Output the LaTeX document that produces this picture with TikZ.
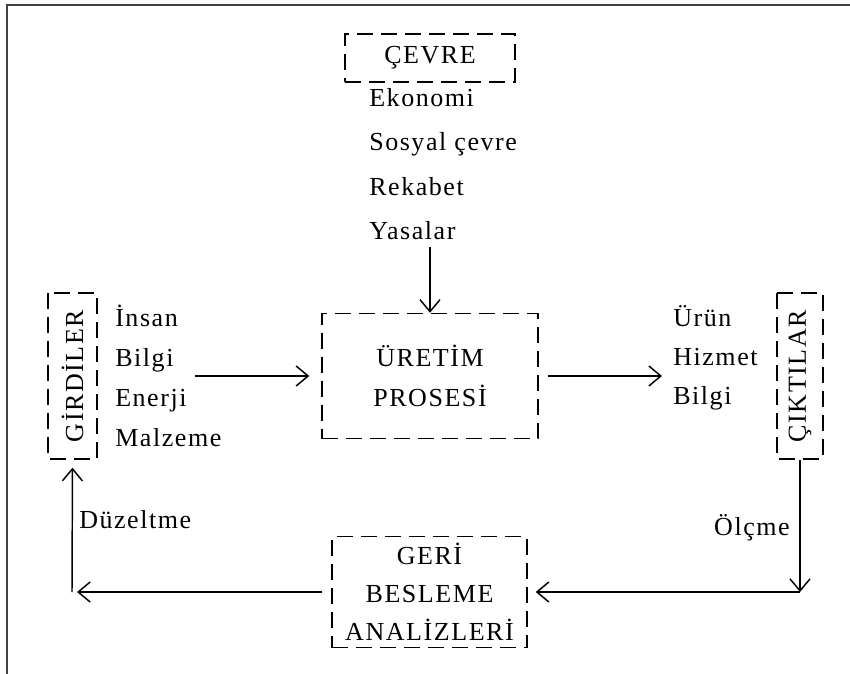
\documentclass[tikz,border=0pt]{standalone}
\usepackage{fontspec}
\setmainfont{Liberation Serif}[LetterSpace=6]
\usetikzlibrary{arrows.meta}
\begin{document}
\begin{tikzpicture}[x=0.75pt,y=-0.75pt,
  every node/.style={font=\fontsize{19.5}{28.5}\selectfont, inner sep=0pt},
  dbox/.style={draw, dash pattern=on 12pt off 6pt, line width=1.1pt},
  item/.style={anchor=base west},
  arr/.style={line width=1.1pt, -{Straight Barb[length=9pt,width=15pt,line width=1.1pt]}},
  frame/.style={line width=2pt, draw=black!75}]
\useasboundingbox (0,0) rectangle (850,674);
% page frame (top and left edges)
\draw[frame] (7,674) -- (7,5) -- (850,5);

% environment
\node[dbox, minimum width=127.5pt, minimum height=36pt] (cevre) at (430,58) {ÇEVRE};
\node[item] (eko) at (369,107) {Ekonomi};
\node[item] (sos) at (369,151) {Sosyal çevre};
\node[item] (rek) at (369,195) {Rekabet};
\node[item] (yas) at (369,239) {Yasalar};
\coordinate (envend) at (430,247);

% production process
\node[dbox, minimum width=162pt, minimum height=93.75pt, align=center,
      font=\fontsize{19.5}{30}\selectfont] (uret) at (430,376) {ÜRETİM\\PROSESİ};

% inputs
\node[dbox, rotate=90, minimum width=124.5pt, minimum height=36.75pt] (gird) at (72.5,376) {GİRDİLER};
\node[item] (insan) at (115,326) {İnsan};
\node[item] (bilgi1) at (115,366) {Bilgi};
\node[item] (enerji) at (115,406) {Enerji};
\node[item] (malz) at (115,446) {Malzeme};
\coordinate (inbeg) at (195,376);

% outputs
\node[item] (urun) at (673,326) {Ürün};
\node[item] (hizmet) at (673,365) {Hizmet};
\node[item] (bilgi2) at (673,404) {Bilgi};
\node[dbox, rotate=90, minimum width=124.5pt, minimum height=34.5pt] (cikt) at (800,376) {ÇIKTILAR};
\coordinate (outend) at (662,376);

% feedback
\node[dbox, minimum width=146.25pt, minimum height=83.25pt, align=center] (geri) at (429.5,592) {GERİ\\BESLEME\\ANALİZLERİ};
\coordinate (lc) at (72,592);
\coordinate (rc) at (800,592);
\node[anchor=base east] (olcme) at (790,535) {Ölçme};
\node[anchor=base west] (duz) at (79,528) {Düzeltme};

% connectors
\draw[arr] (envend) -- (uret.north);
\draw[arr, shorten >=9pt] (inbeg) -- (uret.west);
\draw[arr, shorten <=6.75pt] (uret.east) -- (outend);
\draw[arr] (cikt.west) -- (rc);
\draw[arr, shorten >=6pt] (rc) -- (geri.east);
\draw[arr, shorten <=6.75pt, shorten >=3.75pt] (geri.west) -- (lc);
\draw[arr, shorten >=6pt] (lc) -- (gird.west);
\end{tikzpicture}
\end{document}
